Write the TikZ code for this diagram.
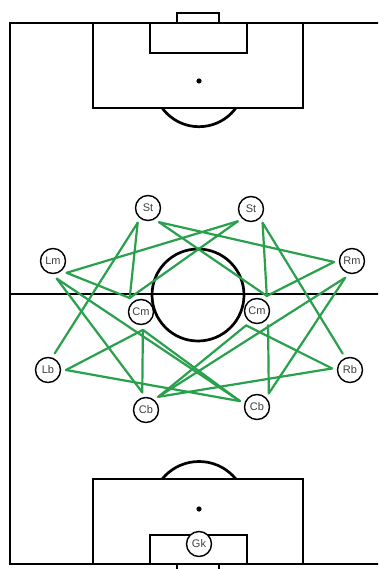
\documentclass[tikz,border=0pt]{standalone}
\usepackage{fontspec}
\setmainfont{Liberation Sans}
\definecolor{passgreen}{RGB}{40,160,76}
\begin{document}
\begin{tikzpicture}[x=1pt,y=-1pt,
  pitchline/.style={line width=2.7pt, draw=black},
  pass/.style={line width=2.2pt, draw=passgreen, line cap=round},
  player/.style={circle, draw=black, line width=1.4pt, fill=white, minimum size=25pt,
    inner sep=0pt, outer sep=5.5pt, font=\fontsize{11}{13}\selectfont, text=black!75}]
\useasboundingbox (0,0) rectangle (378,569);
\clip (0,0) rectangle (378,569);
\fill[white] (0,0) rectangle (378,569);
% pitch
\draw[pitchline] (10,23) rectangle (395,564);
\draw[pitchline] (10,294) -- (395,294);
\draw[pitchline] (198,295) circle[radius=46];
% top end
\draw[pitchline] (93,23) rectangle (303,108);
\draw[pitchline] (150,23) rectangle (247,53);
\draw[pitchline] (177,13) rectangle (219,23);
\fill (199,81) circle[radius=2.6];
\begin{scope}
  \clip (0,108) rectangle (378,200);
  \draw[pitchline] (199,81) circle[radius=45.7];
\end{scope}
% bottom end
\draw[pitchline] (93,479) rectangle (303,564);
\draw[pitchline] (150,535) rectangle (247,564);
\draw[pitchline] (177,564) rectangle (219,576);
\fill (199,509) circle[radius=2.6];
\begin{scope}
  \clip (0,380) rectangle (378,479);
  \draw[pitchline] (199,509) circle[radius=47.5];
\end{scope}
% players
\node[player] (St1) at (148,208) {St};
\node[player] (St2) at (251,209) {St};
\node[player] (Lm) at (53,261) {Lm};
\node[player] (Rm) at (352,261) {Rm};
\node[player] (Cm1) at (141,312) {Cm};
\node[player] (Cm2) at (257,311) {Cm};
\node[player] (Lb) at (48,370) {Lb};
\node[player] (Rb) at (350,370) {Rb};
\node[player] (Cb1) at (146,410) {Cb};
\node[player] (Cb2) at (257,407) {Cb};
\node[player] (Gk) at (199,544) {Gk};
% passing lines
\draw[pass] (St1.308) -- (Rm.183);
\draw[pass] (St2.223) -- (Lm.319);
\draw[pass] (St1.308) -- (Cm2.57);
\draw[pass] (St2.223) -- (Cm1.129);
\draw[pass] (Rm.183) -- (Cm2.57);
\draw[pass] (Lm.319) -- (Cm1.129);
\draw[pass] (St1.235) -- (Lb.68);
\draw[pass] (St2.310) -- (Rb.114);
\draw[pass] (St1.235) -- (Cm1.129);
\draw[pass] (St2.310) -- (Cm2.57);
\draw[pass] (Lm.282) -- (Cb1.102);
\draw[pass] (Rm.248) -- (Cb2.49);
\draw[pass] (Lm.282) -- (Cb2.161);
\draw[pass] (Rm.248) -- (Cb1.47);
\draw[pass] (Cm1.276) -- (Lb.0);
\draw[pass] (Cm2.233) -- (Rb.175);
\draw[pass] (Lb.0) -- (Cb2.161);
\draw[pass] (Rb.175) -- (Cb1.47);
\draw[pass] (Cb1.47) -- (Cm2.233);
\draw[pass] (Cb2.161) -- (Cm1.276);
\draw[pass] (Cm1.276) -- (Cb1.102);
\draw[pass] (Cm2.308) -- (Cb2.49);
\end{tikzpicture}
\end{document}
